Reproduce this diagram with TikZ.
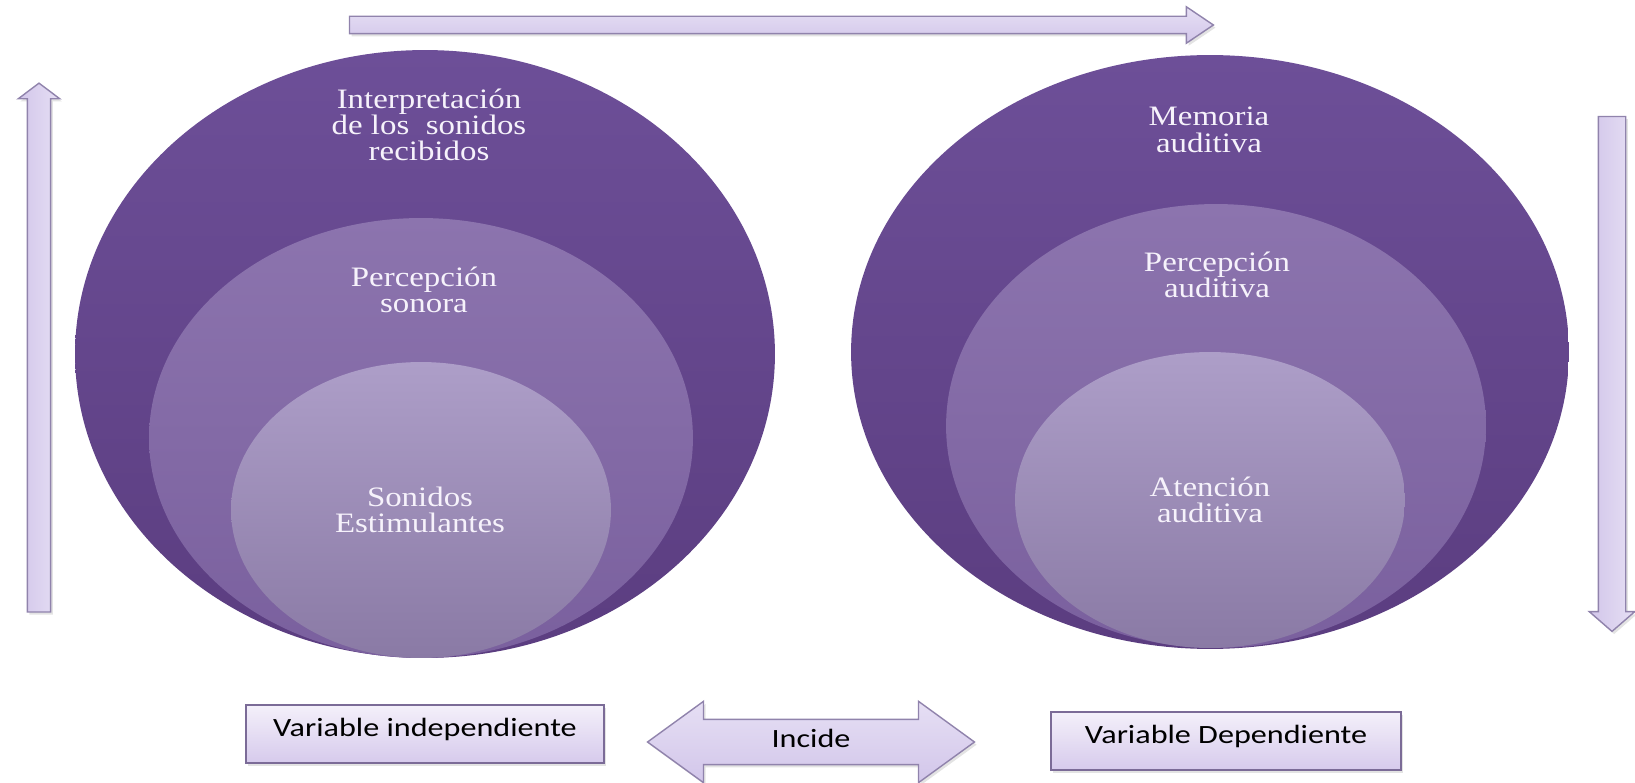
\documentclass[tikz,border=0pt]{standalone}
\usepackage{fontspec}
\setmainfont{Liberation Serif}
\newfontfamily\circfont[FakeStretch=1.17]{Liberation Serif}
\newfontfamily\boxfont[FakeStretch=1.22]{Carlito}
\usetikzlibrary{shapes.geometric,shapes.arrows,shadows,positioning}

\definecolor{outertop}{HTML}{6D4F98}
\definecolor{outerbot}{HTML}{5B3D80}
\definecolor{midtop}{HTML}{8C74AE}
\definecolor{midbot}{HTML}{7A609E}
\definecolor{intop}{HTML}{AD9EC8}
\definecolor{inbot}{HTML}{8A7AA5}
\definecolor{arrowlight}{HTML}{E6DFF4}
\definecolor{arrowdark}{HTML}{D2C6EA}
\definecolor{arrowline}{HTML}{9083AC}
\definecolor{boxtop}{HTML}{F4F0FA}
\definecolor{boxbot}{HTML}{D6CAEC}
\definecolor{boxline}{HTML}{7B6B97}
\definecolor{circtext}{HTML}{F6F2FB}

\tikzset{
  ring/.style={ellipse, inner sep=0pt, draw=none},
  outer/.style={ring, top color=outertop, bottom color=outerbot},
  middle/.style={ring, top color=midtop, bottom color=midbot},
  inner/.style={ring, top color=intop, bottom color=inbot},
  ctext/.style={font=\circfont\fontsize{16}{15}\selectfont, text=circtext, align=center},
  softshadow/.style={drop shadow={opacity=0.22, shadow xshift=1.2pt, shadow yshift=-1.5pt}},
  varbox/.style={draw=boxline, line width=1pt, top color=boxtop, bottom color=boxbot, softshadow,
    minimum height=1.16cm, font=\boxfont\fontsize{15}{17}\selectfont, text depth=8pt},
  bigarrow/.style={single arrow, draw=arrowline, line width=0.8pt, inner sep=0pt, softshadow}
}

\begin{document}
\begin{tikzpicture}[x=0.02cm, y=-0.02cm]
  \useasboundingbox (0,0) rectangle (1635,783);

  % left circles
  \node[outer,  minimum width=14cm,    minimum height=12.16cm] (LO) at (425,354) {};
  \node[middle, minimum width=10.88cm, minimum height=8.8cm]   (LM) at (421,438) {};
  \node[inner,  minimum width=7.6cm,   minimum height=5.92cm]  (LI) at (421,510) {};

  % right circles
  \node[outer,  minimum width=14.36cm, minimum height=11.88cm] (RO) at (1210,352) {};
  \node[middle, minimum width=10.8cm,  minimum height=8.88cm]  (RM) at (1216,426) {};
  \node[inner,  minimum width=7.8cm,   minimum height=5.92cm]  (RI) at (1210,500) {};

  \node[ctext] (LOt) at (429,125) {Interpretación\\de los~ sonidos\\recibidos};
  \node[ctext] (LMt) at (424,290) {Percepción\\sonora};
  \node[ctext] (LIt) at (420,510) {Sonidos\\Estimulantes};
  \node[ctext] (ROt) at (1209,130) {Memoria\\auditiva};
  \node[ctext] (RMt) at (1217,275) {Percepción\\auditiva};
  \node[ctext] (RIt) at (1210,500) {Atención\\auditiva};

  % side arrows
  \node[bigarrow, top color=arrowlight, bottom color=arrowdark,
        minimum height=17.28cm, inner ysep=0.16cm, single arrow head extend=0.19cm,
        single arrow tip angle=68] (top) at (775,25) {};
  \node[bigarrow, left color=arrowdark, right color=arrowlight, shape border rotate=90,
        minimum height=10.58cm, inner xsep=0.22cm, single arrow head extend=0.18cm,
        single arrow tip angle=106] (up) at (39,352) {};
  \node[bigarrow, left color=arrowdark, right color=arrowlight, shape border rotate=270,
        minimum height=10.3cm, inner xsep=0.26cm, single arrow head extend=0.18cm,
        single arrow tip angle=98] (down) at (1612,368) {};

  % bottom row
  \node[varbox, minimum width=7.16cm] (vind) at (425,734) {Variable independiente};
  \node[varbox, minimum width=7.0cm]  (vdep) at (1226,741) {Variable Dependiente};
  \node[double arrow, draw=arrowline, line width=0.8pt, top color=arrowlight, bottom color=arrowdark, softshadow,
        minimum height=6.54cm, text height=8pt, text depth=2pt, inner ysep=7.5pt,
        double arrow head extend=0.36cm, double arrow tip angle=72,
        font=\boxfont\fontsize{15}{17}\selectfont] (incide) at (811,742) {Incide\hspace{0.72cm}};
\end{tikzpicture}
\end{document}
